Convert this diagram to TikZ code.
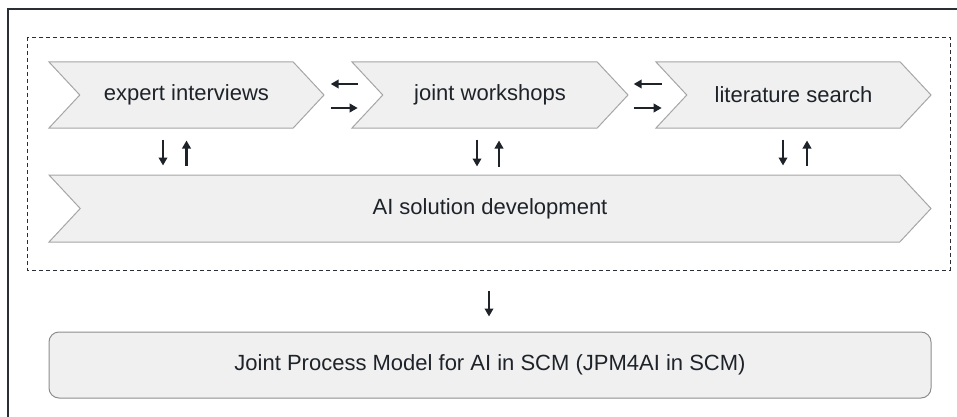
\documentclass[tikz,border=0pt]{standalone}
\usepackage{fontspec}
\setmainfont{Liberation Sans}
\usetikzlibrary{shapes.symbols,arrows.meta}
\definecolor{boxfill}{HTML}{F0F0F0}
\definecolor{boxline}{HTML}{A6A6A6}
\definecolor{ink}{HTML}{1E232A}
\definecolor{frameline}{HTML}{2A2F35}
\begin{document}
\begin{tikzpicture}[x=1pt,y=-1pt,
  chev/.style={shape=signal, signal from=west, signal to=east,
    signal pointer angle=94, fill=boxfill, draw=boxline, line width=1pt,
    inner sep=0pt, minimum height=66pt, text=ink,
    font=\fontsize{22}{26}\selectfont},
  resultbox/.style={draw=boxline!85!black, fill=boxfill, line width=1pt,
    rounded corners=10pt, minimum width=882pt, minimum height=66pt,
    inner sep=0pt, text=ink, font=\fontsize{22}{26}\selectfont},
  arr/.style={draw=ink, line width=2.8pt,
    -{Triangle[length=8pt,width=8.5pt]}}
]
\useasboundingbox (0,0) rectangle (957,417);

% outer frame (left and top edge)
\draw[frameline, line width=1.6pt] (8,417) -- (8,9) -- (957,9);

% dashed grouping box
\draw[frameline, line width=0.9pt, dash pattern=on 4pt off 3pt]
  (27,37) rectangle (950,270);

% activities
\node[chev, minimum width=275pt] (ei) at (186.5,95) {expert interviews};
\node[chev, minimum width=276pt] (jw) at (490,95) {joint workshops};
\node[chev, minimum width=275pt] (ls) at (793.5,95) {literature search};
\node[chev, minimum width=882pt, minimum height=67pt] (ai) at (490,208.5)
  {AI solution development};

% result
\node[resultbox] (jpm) at (490,365) {Joint Process Model for AI in SCM (JPM4AI in SCM)};

% horizontal exchanges between neighbouring activities
\draw[arr] ([xshift=33pt,yshift=11pt]ei.east) -- ([xshift=6pt,yshift=11pt]ei.east);
\draw[arr] ([xshift=6pt,yshift=-13pt]ei.east) -- ([xshift=33pt,yshift=-13pt]ei.east);
\draw[arr] ([xshift=33pt,yshift=11pt]jw.east) -- ([xshift=5pt,yshift=11pt]jw.east);
\draw[arr] ([xshift=5pt,yshift=-13pt]jw.east) -- ([xshift=33pt,yshift=-13pt]jw.east);

% vertical exchanges with the solution development
\draw[arr] ([xshift=-23.5pt,yshift=-11pt]ei.south) -- ([xshift=-23.5pt,yshift=9pt]ai.north -| ei.south);
\draw[arr] ([yshift=9pt]ai.north -| ei.south) -- ([yshift=-12pt]ei.south);
\draw[arr] ([xshift=-13pt,yshift=-11pt]jw.south) -- ([xshift=-13pt,yshift=8pt]ai.north);
\draw[arr] ([xshift=9pt,yshift=8pt]ai.north) -- ([xshift=9pt,yshift=-12pt]jw.south);
\draw[arr] ([xshift=-10.5pt,yshift=-11pt]ls.south) -- ([xshift=-10.5pt,yshift=9pt]ai.north -| ls.south);
\draw[arr] ([xshift=13.5pt,yshift=9pt]ai.north -| ls.south) -- ([xshift=13.5pt,yshift=-12pt]ls.south);

% outcome
\draw[arr] ([xshift=-1pt,yshift=-48pt]ai.south) -- ([xshift=-1pt,yshift=15pt]jpm.north);
\end{tikzpicture}
\end{document}
